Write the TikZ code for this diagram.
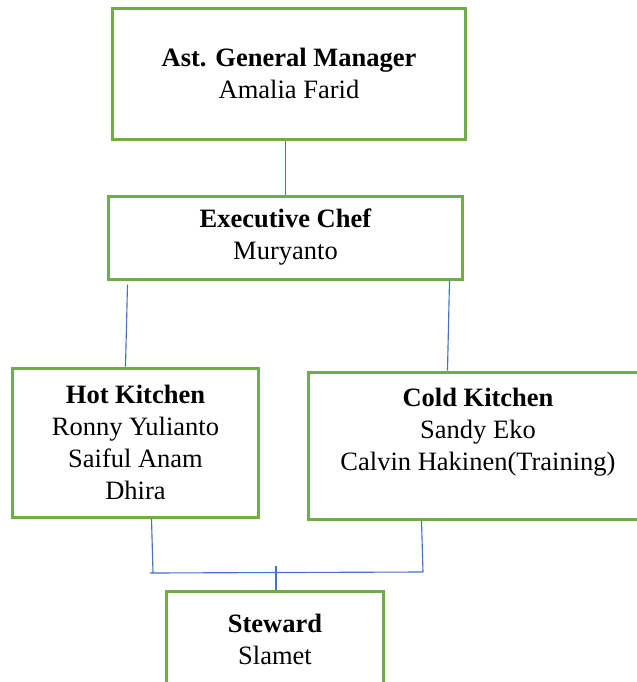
\documentclass[tikz,border=0pt]{standalone}
\usepackage{fontspec}
\setmainfont{Liberation Serif}
\definecolor{boxgreen}{RGB}{112,173,71}
\definecolor{lineblue}{RGB}{68,114,196}
\tikzset{
  orgbox/.style={draw=boxgreen, line width=1.2pt, fill=white, rectangle, inner sep=0pt,
    align=center, font=\fontsize{10.6}{12.8}\selectfont},
  conn/.style={draw=lineblue, line width=0.45pt}
}
\begin{document}
\begin{tikzpicture}[x=0.4pt, y=-0.4pt]
\useasboundingbox (0,0) rectangle (637,682);
\clip (0,0) rectangle (637,682);
\fill[white] (0,0) rectangle (637,682);
\node[orgbox, minimum width=140.8pt, minimum height=52.4pt] (agm) at (289,73.5)
  {\textbf{Ast. General Manager}\\Amalia Farid};
\node[orgbox, minimum width=141.2pt, minimum height=33.2pt] (exec) at (285.5,237.5)
  {\textbf{Executive Chef}\\Muryanto};
\node[orgbox, minimum width=98pt, minimum height=59.6pt] (hot) at (135.5,442.5)
  {\textbf{Hot Kitchen}\\Ronny Yulianto\\Saiful Anam\\Dhira};
\node[orgbox, minimum width=135.2pt, minimum height=58.8pt] (cold) at (478,445.5)
  {\textbf{Cold Kitchen}\\Sandy Eko\\Calvin Hakinen(Training)\\\mbox{}};
\node[orgbox, minimum width=86.4pt, minimum height=38.8pt] (steward) at (275,639.5)
  {\textbf{Steward}\\Slamet};
\coordinate (hl) at (153,573);
\coordinate (cr) at (423,572);
\coordinate (jl) at (150,573);
\coordinate (sj) at (276,566);
\draw[conn] (exec.north) -- (exec.north |- agm.south);
\draw[conn] ([xshift=8pt,yshift=-1.6pt]exec.south west) -- ([xshift=45.6pt]hot.north west);
\draw[conn] ([xshift=-5.6pt]exec.south east) -- ([xshift=56pt]cold.north west);
\draw[conn] ([xshift=56pt]hot.south west) -- (hl);
\draw[conn] ([xshift=45.6pt]cold.south west) -- (cr);
\draw[conn] (jl) -- (cr);
\draw[conn] (sj) -- ([xshift=0.4pt]steward.north);
\end{tikzpicture}
\end{document}
